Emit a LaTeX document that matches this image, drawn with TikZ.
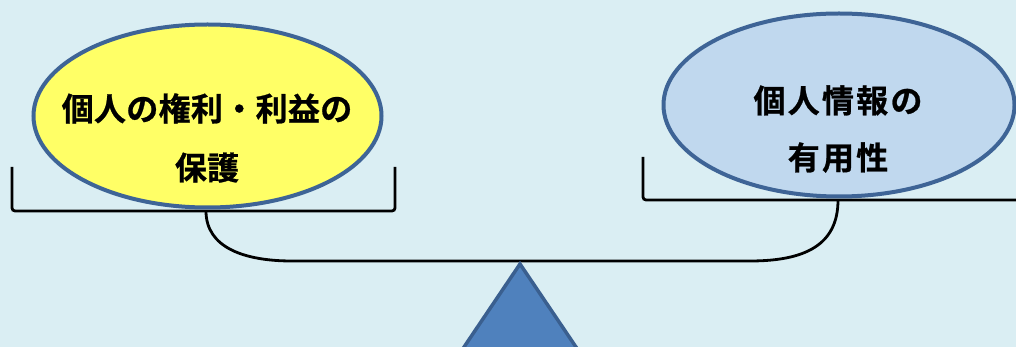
\documentclass[tikz,border=0pt]{standalone}
\usepackage{fontspec}
\newfontfamily\jpfont{Noto Sans CJK JP Bold}[LetterSpace=1,FakeBold=0.8]
\newfontfamily\jpwide{Noto Sans CJK JP Bold}[LetterSpace=7,FakeBold=0.8]
\usetikzlibrary{shapes.geometric}
\definecolor{bgblue}{HTML}{DAEEF3}
\definecolor{padyellow}{HTML}{FFFF66}
\definecolor{padblue}{HTML}{C0D8EE}
\definecolor{rimblue}{HTML}{3E6496}
\definecolor{fulcrum}{HTML}{4F81BD}
\definecolor{fulcrumrim}{HTML}{3A5F8F}
\tikzset{
  pan/.style={draw=black, line width=2.8pt, rounded corners=3pt},
  beam/.style={draw=black, line width=2.8pt},
  weight/.style={ellipse, draw=rimblue, line width=4pt, inner sep=0pt},
  caption/.style={align=center, inner sep=0pt},
}
\begin{document}
\begin{tikzpicture}[x=1pt, y=-1pt]
  % background
  \fill[bgblue] (0,0) rectangle (1016,347);
  \useasboundingbox (0,0) rectangle (1016,347);

  % pans
  \coordinate (lpa) at (12,167);
  \coordinate (lpb) at (12,211);
  \coordinate (lpc) at (395,211);
  \coordinate (lpd) at (395,167);
  \draw[pan] (lpa) -- (lpb) -- (lpc) -- (lpd);
  \coordinate (rpa) at (643,157);
  \coordinate (rpb) at (643,200);
  \coordinate (rpc) at (1020,200);
  \draw[pan] (rpa) -- (rpb) -- (rpc);

  % beam hanging from both pans
  \coordinate (bl) at (206,211);
  \coordinate (br) at (838,200);
  \coordinate (bml) at (292,261);
  \coordinate (bmr) at (750,261);
  \draw[beam] (bl) .. controls (206,248) and (245,261) .. (bml) -- (bmr)
              .. controls (805,261) and (838,245) .. (br);

  % fulcrum
  \coordinate (fa) at (520,264);
  \coordinate (fb) at (462,350);
  \coordinate (fc) at (578,350);
  \filldraw[fill=fulcrum, draw=fulcrumrim, line width=3.5pt, line join=miter] (fa) -- (fb) -- (fc) -- cycle;

  % weights
  \node[weight, fill=padyellow, minimum width=348pt, minimum height=183pt] (left) at (207.5,116) {};
  \node[caption, font=\jpfont\fontsize{32}{59}\selectfont] (lefttext) at (207,138) {個人の権利・利益の\\保護};
  \node[weight, fill=padblue, minimum width=351pt, minimum height=183pt] (right) at (839,105) {};
  \node[caption, font=\jpwide\fontsize{32}{57}\selectfont] (righttext) at (838,129) {個人情報の\\有用性};
\end{tikzpicture}
\end{document}
